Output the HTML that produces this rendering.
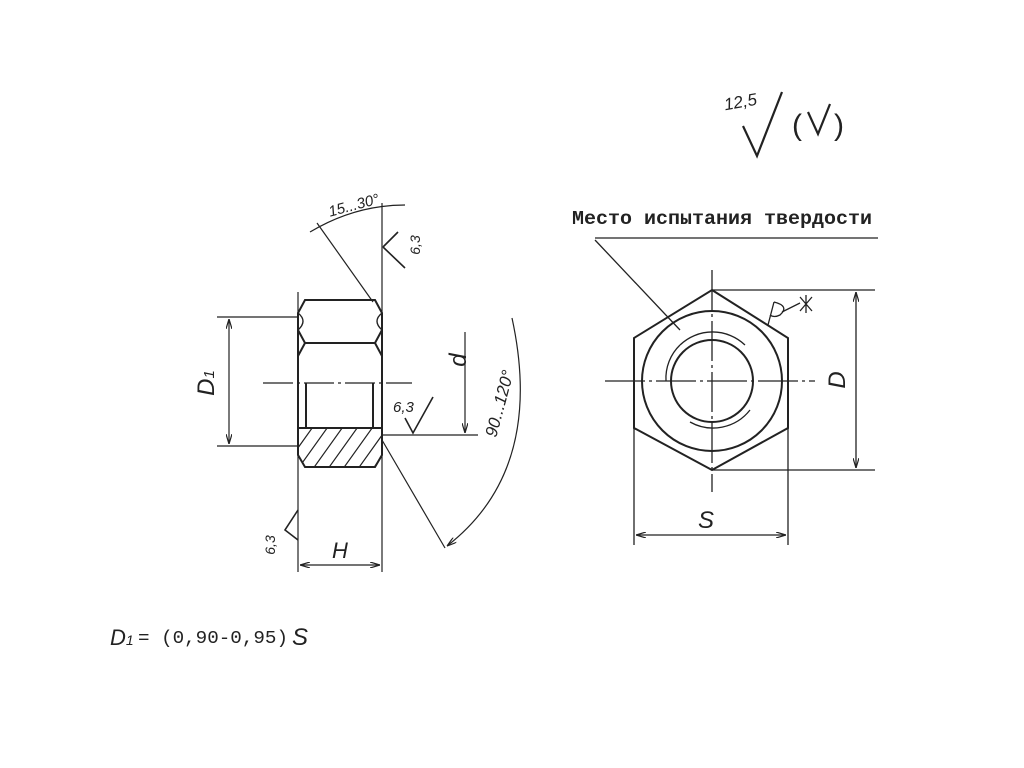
<!DOCTYPE html>
<html><head><meta charset="utf-8"><style>html,body{margin:0;padding:0;background:#fff}svg{display:block}</style></head>
<body>
<svg width="1024" height="768" viewBox="0 0 1024 768" xmlns="http://www.w3.org/2000/svg" font-family="Liberation Sans, sans-serif" fill="none" stroke="#222">
<defs>
<marker id="a" viewBox="0 0 10 6" refX="10" refY="3" markerWidth="10" markerHeight="6" orient="auto-start-reverse" markerUnits="userSpaceOnUse"><path d="M0,0 L10,3 L0,6" stroke="#222" stroke-width="1.2" fill="none"/></marker>
<clipPath id="hc"><path d="M298,428 L382,428 L382,455 L375,467 L305,467 L298,455 Z"/></clipPath>
</defs>
<!-- top right roughness -->
<g stroke-width="2.2">
<path d="M743,126 L757,156 L782,92"/>
<path d="M808,112 L818,134 L830,104"/>
</g>
<text x="792" y="135" font-size="30" fill="#222" stroke="none">(</text>
<text x="834" y="135" font-size="30" fill="#222" stroke="none">)</text>
<text x="724" y="108" font-size="17" fill="#222" stroke="none" font-style="italic" transform="rotate(-10 738 103)">12,5</text>

<!-- LEFT VIEW -->
<g stroke-width="2">
<path d="M305,300 L375,300 L382,313 L382,455 L375,467 L305,467 L298,455 L298,313 Z"/>
<path d="M298,330 L305,343 L375,343 L382,330"/>
<path d="M305,343 L298,356"/>
<path d="M375,343 L382,356"/>
<path d="M306,383 L306,428 M373,383 L373,428"/>
<path d="M298,428 L382,428"/>
<path d="M382,313 Q372,321 382,330" stroke-width="1.4"/>
<path d="M298,313 Q308,321 298,330" stroke-width="1.4"/>
</g>
<g clip-path="url(#hc)" stroke-width="1.2">
<path d="M290,480 L340,410 M305,480 L355,410 M320,480 L370,410 M335,480 L385,410 M350,480 L400,410 M365,480 L415,410 M275,480 L325,410"/>
</g>
<g stroke-width="1.2">
<path d="M263,383 L412,383" stroke-dasharray="30,4,3,4"/>
<path d="M382,203 L382,572"/>
<path d="M298,292 L298,572"/>
<path d="M217,317 L298,317 M217,446 L298,446"/>
<path d="M229,319 L229,444" marker-start="url(#a)" marker-end="url(#a)"/>
<path d="M300,565 L380,565" marker-start="url(#a)" marker-end="url(#a)"/>
<path d="M382,435 L478,435"/>
<path d="M465,332 L465,433" marker-end="url(#a)"/>
<path d="M373,302 L317,223"/>
<path d="M310,232 Q355,205 405,205" />
<path d="M382,440 L445,548"/>
<path d="M512,318 Q545,470 447,546" marker-end="url(#a)"/>
<path d="M405,418 L413,433 L433,397" stroke-width="1.6"/>
<path d="M383,247 L398,232 M383,247 L405,268" stroke-width="1.6"/>
<path d="M298,540 L285,530 L298,510" stroke-width="1.6"/>
</g>
<g fill="#222" stroke="none" font-style="italic">
<text x="214" y="383" font-size="24" transform="rotate(-90 214 383)" text-anchor="middle">D<tspan font-size="15">1</tspan></text>
<text x="466" y="360" font-size="24" transform="rotate(-90 466 360)" text-anchor="middle">d</text>
<text x="340" y="558" font-size="22" text-anchor="middle">H</text>
<text x="355" y="210" font-size="15" transform="rotate(-15 355 210)" text-anchor="middle">15...30°</text>
<text x="505" y="405" font-size="17" transform="rotate(-75 505 405)" text-anchor="middle">90...120°</text>
<text x="393" y="412" font-size="15">6,3</text>
<text x="420" y="245" font-size="14" transform="rotate(-90 420 245)" text-anchor="middle">6,3</text>
<text x="275" y="545" font-size="14" transform="rotate(-90 275 545)" text-anchor="middle">6,3</text>
</g>

<!-- RIGHT VIEW -->
<g stroke-width="2">
<path d="M712,290 L788,338 L788,428 L712,470 L634,428 L634,338 Z"/>
<circle cx="712" cy="381" r="70"/>
<circle cx="712" cy="381" r="41"/>
</g>
<g stroke-width="1.3">
<path d="M680,345 A47,47 0 0 1 745,345"/>
<path d="M750,410 A47,47 0 0 1 690,422"/>
<path d="M666,381 A46,46 0 0 1 680,345"/>
<path d="M605,381 L815,381" stroke-dasharray="40,4,3,4"/>
<path d="M712,270 L712,492" stroke-dasharray="40,4,3,4"/>
<path d="M595,238 L878,238"/>
<path d="M595,240 L680,330"/>
<path d="M712,290 L875,290 M712,470 L875,470"/>
<path d="M856,292 L856,468" marker-start="url(#a)" marker-end="url(#a)"/>
<path d="M634,428 L634,545 M788,428 L788,545"/>
<path d="M636,535 L786,535" marker-start="url(#a)" marker-end="url(#a)"/>
<path d="M768,325 L774,302"/>
<path d="M774,302 Q790,306 780,315 Q774,318 770,315"/>
<path d="M782,312 L800,303"/>
<path d="M800,297 L812,311 M812,297 L800,311 M806,295 L806,313"/>
</g>
<g fill="#222" stroke="none">
<text x="572" y="224" font-size="19" font-family="Liberation Mono, monospace" textLength="300" lengthAdjust="spacingAndGlyphs" font-weight="bold">Место испытания твердости</text>
<text x="845" y="380" font-size="24" font-style="italic" transform="rotate(-90 845 380)" text-anchor="middle">D</text>
<text x="706" y="528" font-size="24" font-style="italic" text-anchor="middle">S</text>
<text x="110" y="645" font-size="22" font-style="italic">D<tspan font-size="14">1</tspan></text>
<text x="138" y="643" font-size="18" font-family="Liberation Mono, monospace" textLength="150" lengthAdjust="spacingAndGlyphs">= (0,90-0,95)</text>
<text x="292" y="645" font-size="24" font-style="italic">S</text>
</g>
</svg>
</body></html>
